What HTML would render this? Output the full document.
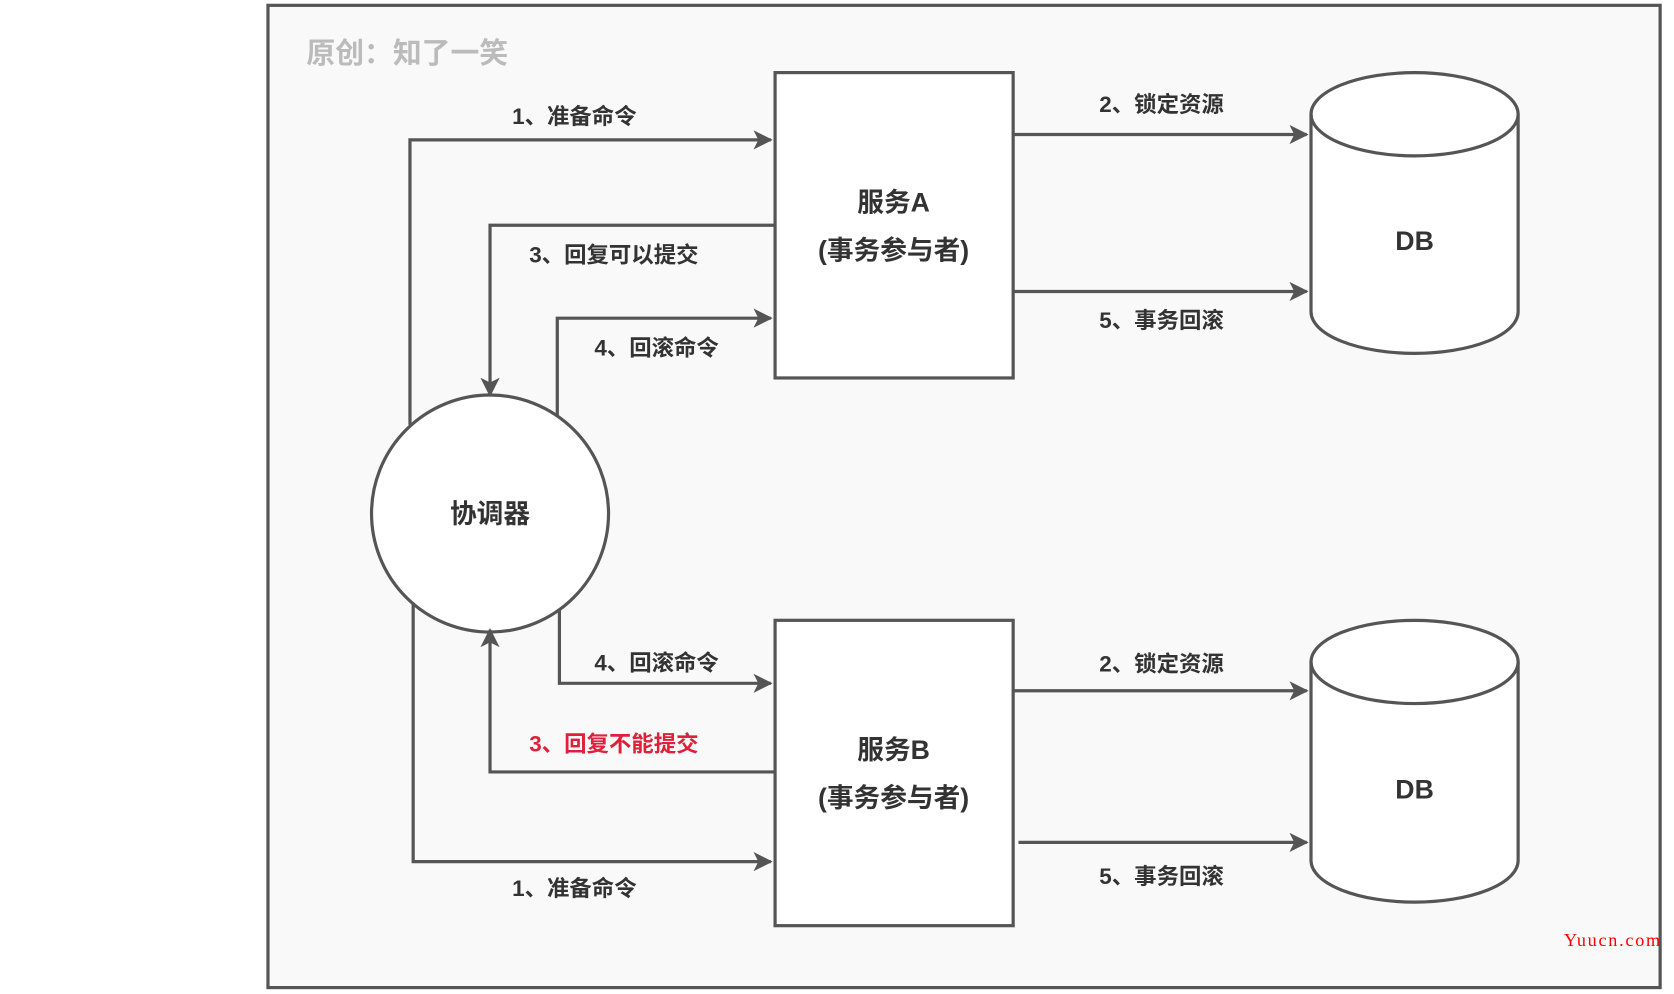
<!DOCTYPE html>
<html><head><meta charset="utf-8"><style>
html,body{margin:0;padding:0;background:#fff;}
svg{display:block}
text{font-family:"Liberation Sans","Noto Sans CJK SC",sans-serif;font-weight:bold;fill:#333;}
</style></head><body>
<svg width="1674" height="994" viewBox="0 0 1568 931" preserveAspectRatio="none" xmlns="http://www.w3.org/2000/svg">
<defs><marker id="a" viewBox="0 0 10 10" refX="9" refY="5" markerWidth="6" markerHeight="6" orient="auto" markerUnits="strokeWidth"><path d="M0,0 L10,5 L0,10 L2.5,5z" fill="#555"/></marker></defs>
<rect x="251" y="5" width="1304" height="920" fill="#f9f9f9" stroke="#555" stroke-width="3"/>
<text x="287" y="59" font-size="27" style="fill:#bbb">原创：知了一笑</text>
<g fill="none" stroke="#555" stroke-width="3">
<rect x="726" y="68" width="223" height="286" fill="#fff"/>
<rect x="726" y="581" width="223" height="286" fill="#fff"/>
<circle cx="459" cy="481" r="111" fill="#fff"/>
<path d="M1228,107 A97,39 0 0 1 1422,107 L1422,292 A97,39 0 0 1 1228,292 Z" fill="#fff"/>
<path d="M1228,107 A97,39 0 0 0 1422,107"/>
<path d="M1228,620 A97,39 0 0 1 1422,620 L1422,806 A97,39 0 0 1 1228,806 Z" fill="#fff"/>
<path d="M1228,620 A97,39 0 0 0 1422,620"/>
<path d="M384,398 V131 H722" marker-end="url(#a)"/>
<path d="M726,211 H459 V370" marker-end="url(#a)"/>
<path d="M522,390 V298 H722" marker-end="url(#a)"/>
<path d="M949,126 H1224" marker-end="url(#a)"/>
<path d="M949,273 H1224" marker-end="url(#a)"/>
<path d="M524,570 V640 H722" marker-end="url(#a)"/>
<path d="M726,723 H459 V590" marker-end="url(#a)"/>
<path d="M387,565 V807 H722" marker-end="url(#a)"/>
<path d="M949,647 H1224" marker-end="url(#a)"/>
<path d="M954,789 H1224" marker-end="url(#a)"/>
</g>
<g font-size="25" text-anchor="middle">
<text x="837" y="198">服务A</text>
<text x="837" y="243">(事务参与者)</text>
<text x="837" y="711">服务B</text>
<text x="837" y="756">(事务参与者)</text>
<text x="459" y="490">协调器</text>
<text x="1325" y="234">DB</text>
<text x="1325" y="748">DB</text>
</g>
<g font-size="21" text-anchor="middle">
<text x="538" y="116">1、准备命令</text>
<text x="575" y="246">3、回复可以提交</text>
<text x="615" y="333">4、回滚命令</text>
<text x="1088" y="105">2、锁定资源</text>
<text x="1088" y="307">5、事务回滚</text>
<text x="615" y="628">4、回滚命令</text>
<text x="575" y="704" style="fill:#e0203a">3、回复不能提交</text>
<text x="538" y="839">1、准备命令</text>
<text x="1088" y="629">2、锁定资源</text>
<text x="1088" y="828">5、事务回滚</text>
</g>
<text x="1465" y="886" font-size="17" textLength="90" style="font-family:'Liberation Serif',serif;font-weight:normal;fill:#f00">Yuucn.com</text>
</svg>
</body></html>
